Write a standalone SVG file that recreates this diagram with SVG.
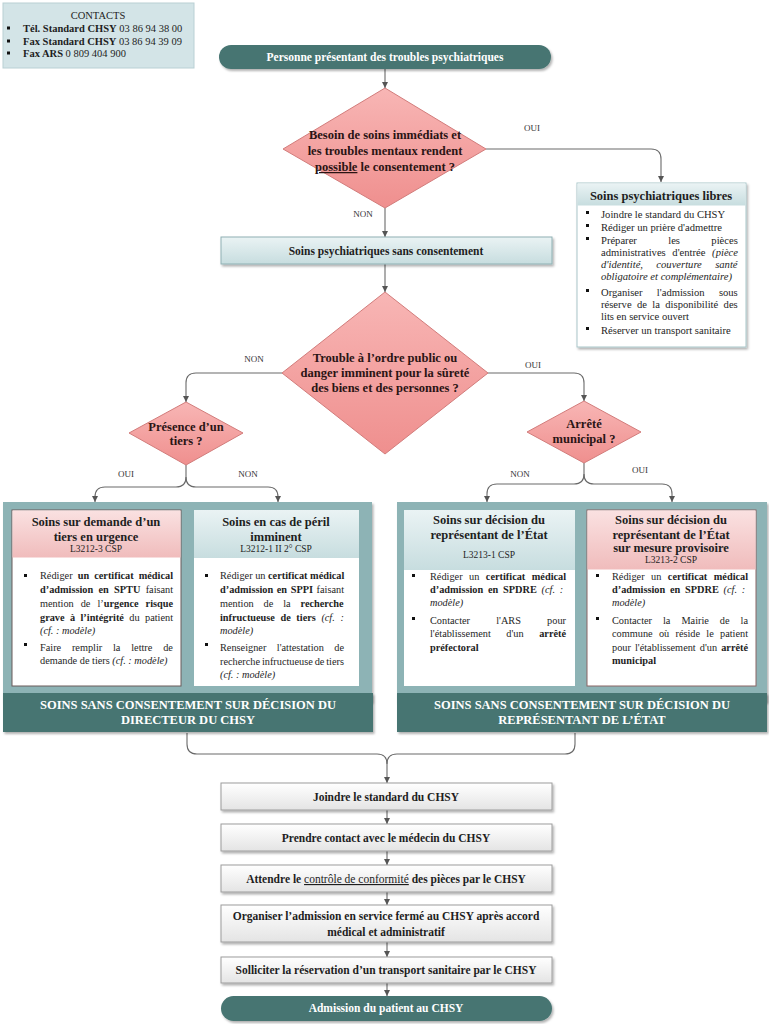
<svg xmlns="http://www.w3.org/2000/svg" width="769" height="1024" viewBox="0 0 769 1024" font-family="Liberation Serif, Times New Roman, Times, serif">
<defs>
<linearGradient id="gDia" x1="0" y1="0" x2="0" y2="1"><stop offset="0" stop-color="#f8b6b5"/><stop offset="1" stop-color="#ef8f8e"/></linearGradient>
<linearGradient id="gTeal" x1="0" y1="0" x2="0" y2="1"><stop offset="0" stop-color="#eaf3f4"/><stop offset="1" stop-color="#c7dddf"/></linearGradient>
<linearGradient id="gPink" x1="0" y1="0" x2="0" y2="1"><stop offset="0" stop-color="#fae1e1"/><stop offset="1" stop-color="#f0bcbc"/></linearGradient>
<linearGradient id="gGray" x1="0" y1="0" x2="0" y2="1"><stop offset="0" stop-color="#ffffff"/><stop offset="1" stop-color="#e4e4e4"/></linearGradient>
<filter id="sh" x="-10%" y="-10%" width="130%" height="140%"><feDropShadow dx="1.5" dy="2" stdDeviation="1.2" flood-color="#000" flood-opacity="0.3"/></filter>
<marker id="arr" viewBox="0 0 10 10" refX="10" refY="5" markerWidth="6" markerHeight="6" orient="auto" markerUnits="userSpaceOnUse"><path d="M0,0 L10,5 L0,10 z" fill="#555"/></marker>
</defs>
<style>
svg, text, tspan{font-family:'Liberation Serif','Times New Roman',Times,serif}
text{fill:#1e1e1e}
.b{font-weight:bold}
.i{font-style:italic}
.c{text-anchor:middle}
.dia{fill:url(#gDia);stroke:#d27c7b;stroke-width:1}
.dt{font-size:12.5px;font-weight:bold;fill:#2a1414;text-anchor:middle}
.lbl{font-size:9px;fill:#333}
.conn{fill:none;stroke:#6a6a6a;stroke-width:1.1}
.dark{fill:#477572;filter:url(#sh)}
.wt{fill:#fff;font-weight:bold;text-anchor:middle}
.step{fill:url(#gGray);stroke:#9c9c9c;stroke-width:1;filter:url(#sh)}
.st{font-size:11.5px;font-weight:bold;text-anchor:middle}
.bt{font-size:10.3px}
.lt{font-size:10.6px}
.ct{font-size:10.5px}
.hd{font-size:12.5px;font-weight:bold;text-anchor:middle}
.ref{font-size:9.5px;text-anchor:middle}
.bul{fill:#111}
.panel{fill:#8db3b5;filter:url(#sh)}
</style>
<rect width="769" height="1024" fill="#fff"/>

<g id="contacts">
<rect x="3" y="3" width="191" height="65" fill="#d3e4e7" stroke="#b9d0d4"/>
<text x="98" y="19" class="c ct">CONTACTS</text>
<rect x="7" y="26.5" width="3" height="3" class="bul"/>
<text x="23" y="32" class="ct"><tspan class="b">Tél. Standard CHSY</tspan> 03 86 94 38 00</text>
<rect x="7" y="39.5" width="3" height="3" class="bul"/>
<text x="23" y="45" class="ct"><tspan class="b">Fax Standard CHSY</tspan> 03 86 94 39 09</text>
<rect x="7" y="51.5" width="3" height="3" class="bul"/>
<text x="23" y="57" class="ct"><tspan class="b">Fax ARS</tspan> 0 809 404 900</text>
</g>

<g id="connectors">
<path class="conn" d="M385,69 V88" marker-end="url(#arr)"/>
<path class="conn" d="M486,149 H651 Q661,149 661,159 V182" marker-end="url(#arr)"/>
<path class="conn" d="M385,208 V237" marker-end="url(#arr)"/>
<path class="conn" d="M385,264 V292" marker-end="url(#arr)"/>
<path class="conn" d="M282,373 H196 Q186,373 186,383 V402" marker-end="url(#arr)"/>
<path class="conn" d="M488,373 H574 Q584,373 584,383 V401" marker-end="url(#arr)"/>
<path class="conn" d="M186,465 V477 Q186,487 176,487 H105 Q95,487 95,497 V502" marker-end="url(#arr)"/>
<path class="conn" d="M186,477 Q186,487 196,487 H268 Q278,487 278,497 V502" marker-end="url(#arr)"/>
<path class="conn" d="M584,463 V474 Q584,484 574,484 H497 Q487,484 487,494 V502" marker-end="url(#arr)"/>
<path class="conn" d="M584,474 Q584,484 594,484 H662 Q672,484 672,494 V502" marker-end="url(#arr)"/>
<path class="conn" d="M187,733 V744 Q187,754 197,754 H377 Q387,754 387,764 V783" marker-end="url(#arr)"/>
<path class="conn" d="M575,733 V744 Q575,754 565,754 H397 Q387,754 387,764"/>
<path class="conn" d="M387,810 V824" marker-end="url(#arr)"/>
<path class="conn" d="M387,851 V865" marker-end="url(#arr)"/>
<path class="conn" d="M387,892 V905" marker-end="url(#arr)"/>
<path class="conn" d="M387,942 V957" marker-end="url(#arr)"/>
<path class="conn" d="M387,983 V996" marker-end="url(#arr)"/>
<text x="532" y="131" class="lbl c">OUI</text>
<text x="363" y="217" class="lbl c">NON</text>
<text x="254" y="362" class="lbl c">NON</text>
<text x="533" y="368" class="lbl c">OUI</text>
<text x="126" y="477" class="lbl c">OUI</text>
<text x="248" y="477" class="lbl c">NON</text>
<text x="520" y="477" class="lbl c">NON</text>
<text x="640" y="473" class="lbl c">OUI</text>
</g>

<g id="start">
<rect x="219" y="45" width="332" height="24" rx="12" class="dark"/>
<text x="385" y="61" class="wt" style="font-size:11.5px">Personne présentant des troubles psychiatriques</text>
</g>

<g id="q1">
<polygon points="385,88 486,149 385,208 283,149" class="dia"/>
<text x="385" y="139" class="dt">Besoin de soins immédiats et</text>
<text x="385" y="155" class="dt">les troubles mentaux rendent</text>
<text x="385" y="171" class="dt"><tspan text-decoration="underline">possible</tspan> le consentement ?</text>
</g>

<g id="libres">
<rect x="577" y="183" width="169" height="164" fill="#fff" stroke="#a9c6c9" filter="url(#sh)"/>
<rect x="577.5" y="183.5" width="168" height="22" fill="url(#gTeal)"/>
<text x="661" y="200" class="hd">Soins psychiatriques libres</text>
<rect x="586" y="211" width="3" height="3" class="bul"/>
<text x="601" y="217.5" class="lt">Joindre le standard du CHSY</text>
<rect x="586" y="224" width="3" height="3" class="bul"/>
<text x="601" y="230.5" class="lt">Rédiger un prière d'admettre</text>
<rect x="586" y="237" width="3" height="3" class="bul"/>
<text x="601" y="243.5" class="lt" word-spacing="28.7">Préparer les pièces</text>
<text x="601" y="255.5" class="lt" word-spacing="4">administratives d'entrée <tspan class="i">(pièce</tspan></text>
<text x="601" y="267.5" class="lt i" word-spacing="10.7">d'identité, couverture santé</text>
<text x="601" y="279.5" class="lt i">obligatoire et complémentaire)</text>
<rect x="586" y="289" width="3" height="3" class="bul"/>
<text x="601" y="295.5" class="lt" word-spacing="11.6">Organiser l'admission sous</text>
<text x="601" y="307.5" class="lt" word-spacing="2.7">réserve de la disponibilité des</text>
<text x="601" y="319.5" class="lt">lits en service ouvert</text>
<rect x="586" y="327" width="3" height="3" class="bul"/>
<text x="601" y="333.5" class="lt">Réserver un transport sanitaire</text>
</g>

<g id="sansconsent">
<rect x="221" y="237" width="331" height="27" fill="url(#gTeal)" stroke="#8fb0b3" filter="url(#sh)"/>
<text x="386" y="255" class="st">Soins psychiatriques sans consentement</text>
</g>

<g id="q2">
<polygon points="385,292 488,373 385,454 282,373" class="dia"/>
<text x="385" y="362" class="dt">Trouble à l’ordre public ou</text>
<text x="385" y="377" class="dt">danger imminent pour la sûreté</text>
<text x="385" y="392" class="dt">des biens et des personnes ?</text>
</g>

<g id="q3">
<polygon points="186,402 243,433 186,465 129,433" class="dia"/>
<text x="186" y="431" class="dt">Présence d’un</text>
<text x="186" y="445" class="dt">tiers ?</text>
</g>

<g id="q4">
<polygon points="584,401 641,432 584,463 527,432" class="dia"/>
<text x="584" y="428" class="dt">Arrêté</text>
<text x="584" y="443" class="dt">municipal ?</text>
</g>

<g id="directeur">
<rect x="3" y="502" width="369" height="200" class="panel"/>
<g id="sdt">
<rect x="12" y="510" width="169" height="176" fill="#fff" stroke="#6a5a5a"/>
<rect x="12.5" y="510.5" width="168" height="47" fill="url(#gPink)"/>
<text x="96" y="526" class="hd">Soins sur demande d’un</text>
<text x="96" y="541" class="hd">tiers en urgence</text>
<text x="96" y="552" class="ref">L3212-3 CSP</text>
<rect x="24" y="574" width="3" height="3" class="bul"/>
<text x="40" y="579" class="bt" word-spacing="2.5">Rédiger <tspan class="b">un certificat médical</tspan></text>
<text x="40" y="593" class="bt" word-spacing="2.7"><tspan class="b">d’admission en SPTU</tspan> faisant</text>
<text x="40" y="607" class="bt" word-spacing="4.4">mention de l’<tspan class="b">urgence risque</tspan></text>
<text x="40" y="621" class="bt" word-spacing="2.8"><tspan class="b">grave à l’intégrité</tspan> du patient</text>
<text x="40" y="634" class="bt i">(cf. : modèle)</text>
<rect x="24" y="643" width="3" height="3" class="bul"/>
<text x="40" y="651" class="bt" word-spacing="8.2">Faire remplir la lettre de</text>
<text x="40" y="664" class="bt">demande de tiers <tspan class="i">(cf. : modèle)</tspan></text>
</g>
<g id="spi">
<rect x="194" y="510" width="165" height="176" fill="#fff"/>
<rect x="194" y="510" width="165" height="48" fill="url(#gTeal)"/>
<text x="276" y="526" class="hd">Soins en cas de péril</text>
<text x="276" y="541" class="hd">imminent</text>
<text x="276" y="552" class="ref">L3212-1 II 2° CSP</text>
<rect x="205" y="574" width="3" height="3" class="bul"/>
<text x="220" y="579" class="bt">Rédiger un <tspan class="b">certificat médical</tspan></text>
<text x="220" y="593" class="bt" word-spacing="1"><tspan class="b">d’admission en SPPI</tspan> faisant</text>
<text x="220" y="607" class="bt" word-spacing="7.3">mention de la <tspan class="b">recherche</tspan></text>
<text x="220" y="621" class="bt" word-spacing="3"><tspan class="b">infructueuse de tiers</tspan> <tspan class="i">(cf. :</tspan></text>
<text x="220" y="634" class="bt i">modèle)</text>
<rect x="205" y="643" width="3" height="3" class="bul"/>
<text x="220" y="651" class="bt" word-spacing="7.9">Renseigner l'attestation de</text>
<text x="220" y="665" class="bt" word-spacing="-0.7">recherche infructueuse de tiers</text>
<text x="220" y="678" class="bt i">(cf. : modèle)</text>
</g>
<rect x="3" y="693" width="370" height="39" class="dark"/>
<text x="188" y="709" class="wt" style="font-size:12.5px">SOINS SANS CONSENTEMENT SUR DÉCISION DU</text>
<text x="188" y="724" class="wt" style="font-size:12.5px">DIRECTEUR DU CHSY</text>
</g>

<g id="etat">
<rect x="397" y="502" width="370" height="200" class="panel"/>
<g id="sdre">
<rect x="404" y="510" width="171" height="176" fill="#fff"/>
<rect x="404" y="510" width="171" height="60" fill="url(#gTeal)"/>
<text x="489" y="524" class="hd">Soins sur décision du</text>
<text x="489" y="539" class="hd">représentant de l’État</text>
<text x="489" y="558" class="ref">L3213-1 CSP</text>
<rect x="412" y="574" width="3" height="3" class="bul"/>
<text x="430" y="580" class="bt" word-spacing="3.9">Rédiger un <tspan class="b">certificat médical</tspan></text>
<text x="430" y="593" class="bt" word-spacing="2.2"><tspan class="b">d’admission en SPDRE</tspan> <tspan class="i">(cf. :</tspan></text>
<text x="430" y="606" class="bt i">modèle)</text>
<rect x="412" y="617" width="3" height="3" class="bul"/>
<text x="430" y="624" class="bt" word-spacing="23.6">Contacter l'ARS pour</text>
<text x="430" y="637" class="bt" word-spacing="13">l'établissement d'un <tspan class="b">arrêté</tspan></text>
<text x="430" y="651" class="bt b">préfectoral</text>
</g>
<g id="smp">
<rect x="587" y="510" width="169" height="176" fill="#fff" stroke="#8a6464"/>
<rect x="587.5" y="510.5" width="168" height="59" fill="url(#gPink)"/>
<text x="671" y="524" class="hd">Soins sur décision du</text>
<text x="671" y="539" class="hd">représentant de l’État</text>
<text x="671" y="552" class="hd">sur mesure provisoire</text>
<text x="671" y="563" class="ref">L3213-2 CSP</text>
<rect x="596" y="574" width="3" height="3" class="bul"/>
<text x="612" y="580" class="bt" word-spacing="3.9">Rédiger un <tspan class="b">certificat médical</tspan></text>
<text x="612" y="593" class="bt" word-spacing="2.2"><tspan class="b">d’admission en SPDRE</tspan> <tspan class="i">(cf. :</tspan></text>
<text x="612" y="606" class="bt i">modèle)</text>
<rect x="596" y="617" width="3" height="3" class="bul"/>
<text x="612" y="624" class="bt" word-spacing="8.4">Contacter la Mairie de la</text>
<text x="612" y="637" class="bt" word-spacing="3.7">commune où réside le patient</text>
<text x="612" y="651" class="bt" word-spacing="1.5">pour l'établissement d'un <tspan class="b">arrêté</tspan></text>
<text x="612" y="664" class="bt b">municipal</text>
</g>
<rect x="397" y="693" width="370" height="39" class="dark"/>
<text x="582" y="709" class="wt" style="font-size:12.5px">SOINS SANS CONSENTEMENT SUR DÉCISION DU</text>
<text x="582" y="724" class="wt" style="font-size:12.5px">REPRÉSENTANT DE L’ÉTAT</text>
</g>

<g id="step1"><rect x="221" y="783" width="331" height="27" class="step"/><text x="386" y="801" class="st">Joindre le standard du CHSY</text></g>
<g id="step2"><rect x="221" y="824" width="331" height="27" class="step"/><text x="386" y="842" class="st">Prendre contact avec le médecin du CHSY</text></g>
<g id="step3"><rect x="221" y="865" width="331" height="27" class="step"/><text x="386" y="883" class="st">Attendre le <tspan font-weight="normal" text-decoration="underline">contrôle de conformité</tspan> des pièces par le CHSY</text></g>
<g id="step4"><rect x="221" y="905" width="331" height="37" class="step"/><text x="386" y="920" class="st">Organiser l’admission en service fermé au CHSY après accord</text><text x="386" y="936" class="st">médical et administratif</text></g>
<g id="step5"><rect x="221" y="957" width="331" height="26" class="step"/><text x="386" y="974" class="st">Solliciter la réservation d’un transport sanitaire par le CHSY</text></g>
<g id="end">
<rect x="221" y="996" width="331" height="25" rx="12.5" class="dark"/>
<text x="386" y="1012" class="wt" style="font-size:11.5px">Admission du patient au CHSY</text>
</g>
</svg>
